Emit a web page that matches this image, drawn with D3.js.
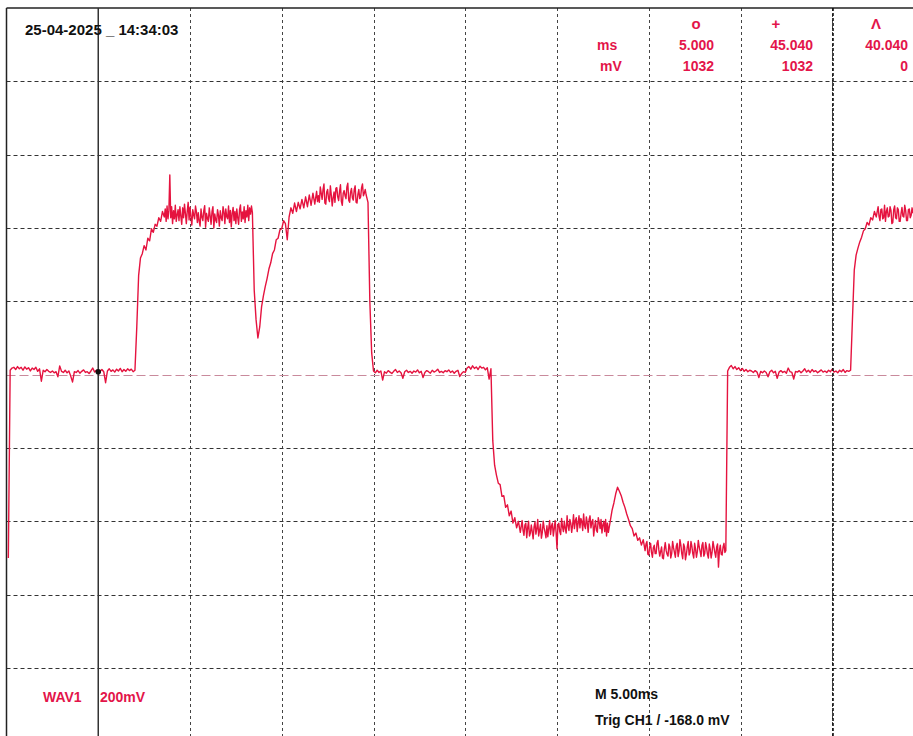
<!DOCTYPE html>
<html><head><meta charset="utf-8">
<script src="https://cdn.jsdelivr.net/npm/d3@7"></script>
<style>html,body{margin:0;padding:0;background:#fff;}svg{display:block}</style>
</head><body><svg id="c" width="913" height="736"></svg>
<script>
// ---- data ----
const timeDivMs = [0,5,10,15,20,25,30,35,40,45,50];
const voltDivMv = [-1000,-800,-600,-400,-200,0,200,400,600,800,1000];
const cursorMs = [5.000, 45.040];
const cursorDotMv = 8;
const headerSymbols = ["o", "+", "\u039B"];
const cursorTimeLabels = ["5.000", "45.040", "40.040"];
const cursorVoltLabels = ["1032", "1032", "0"];
const dateLabel = "25-04-2025 _ 14:34:03";
const channelLabel = "WAV1";
const scaleLabel = "200mV";
const timebaseLabel = "M 5.00ms";
const triggerLabel = "Trig CH1 / -168.0 mV";

// trace in segments (start time, sample step, values in mV)
const segmentStartMs = [0.1, 8.6, 13.5, 16.9, 19.7, 28.1, 32.9, 34.8, 39.3, 47.5];
const segmentStepMs  = [0.1, 0.05, 0.1, 0.05, 0.1, 0.05, 0.1, 0.05, 0.1, 0.05];
const segA = [-500,12,18,20,14,22,16,20,12,21,15,19,10,18,14,20,9,16,-18,12,8,14,9,6,10,5,8,-6,24,9,6,12,5,10,-4,-20,8,6,11,4,9,13,6,8,3,10,18,7,12,5,9,14,8,-22,10,16,9,13,7,15,10,17,8,14,9,16,11,15,8,12,
  130,270,318,330,352,340,372,365,398,388,410,405,428,418,445];
const segB = [430,452,418,460,425,448,545,428,458,412,447,425,462,418,436,450,420,458,432,410,
  455,428,465,440,412,446,470,422,457,430,408,450,436,425,460,444,415,442,418,405,
  452,430,420,447,461,402,440,426,418,455,432,410,445,458,400,438,422,415,450,435,
  405,447,428,420,458,444,412,452,431,425,460,415,448,403,440,456,420,445,412,452,
  428,410,450,463,418,444,425,458,415,447,430,462,420,455,438,460,442];
const segC = [230,150,100,130,185,215,240,262,288,305,330,340,368,372,395,398,420,412,368,430,455,440,468,445,470,452,478,455,485,458,490,462,495,465];
const segD = [500,472,488,470,512,495,478,505,520,468,465,498,505,480,472,515,490,460,482,498,
  470,508,510,485,475,500,518,472,462,495,502,488,480,512,522,476,470,498,508,482,
  476,505,515,470,468,492,505,480,485,510,520,488,495,505,490];
const segE = [470,200,60,10,
  5,12,6,10,-15,8,4,11,7,3,9,14,6,10,5,-10,8,12,6,9,4,10,7,13,5,9,-8,6,11,8,4,12,7,10,15,6,9,5,11,8,13,6,10,4,9,12,-5,3,8,6,18,22,15,24,17,21,14,23,18,20,13,19,-12,16,
  -180,-247,-274,-296,-300,-332,-330,-362,-355,-385,-372,-405,-390,-418,-400,-430];
const segF = [-398,-425,-438,-410,-405,-445,-418,-400,-440,-432,-410,-428,-448,-415,-402,-435,-420,-395,-440,-425,
  -408,-446,-430,-400,-418,-430,-445,-412,-442,-420,-398,-436,-412,-405,-440,-420,-398,-430,-475,-410,
  -405,-428,-436,-392,-415,-428,-400,-420,-432,-385,-412,-425,-395,-405,-430,-410,-382,-420,-398,-390,
  -428,-405,-385,-418,-392,-400,-425,-380,-412,-420,-388,-405,-430,-395,-385,-418,-402,-395,-440,-415,
  -398,-425,-430,-390,-402,-420,-395,-432,-410,-400,-428,-395,-440,-405,-430];
const segG = [-400,-370,-350,-325,-307,-318,-330,-348,-362,-380,-395,-412,-420,-440,-432,-452,-445,-465,-450];
const segH = [-480,-462,-455,-490,-492,-470,-460,-485,-498,-472,-465,-488,-488,-460,-452,-478,-495,-482,-470,-500,
  -502,-475,-458,-480,-490,-495,-462,-470,-500,-488,-455,-472,-485,-498,-468,-460,-496,-482,-450,-465,
  -488,-502,-462,-470,-505,-490,-470,-455,-492,-485,-455,-468,-488,-500,-460,-475,-498,-482,-452,-470,
  -482,-496,-465,-458,-495,-488,-458,-472,-490,-500,-462,-475,-500,-485,-455,-470,-485,-498,-470,-462,
  -525,-480,-465,-490,-492,-470,-460,-485,-480];
const segI = [10,20,25,16,22,14,19,11,17,9,14,8,12,10,6,11,7,-8,9,5,10,6,-6,8,12,5,9,-10,7,11,6,9,4,18,8,6,-12,9,7,11,5,10,16,7,12,6,14,8,11,5,9,13,7,10,6,12,8,15,7,10,5,12,8,14,6,11,9,12,
  150,285,326,345,362,375,392,398,415,408,428,422,445,430];
const segJ = [458,432,420,450,452,425,428,462,418,445,455,430,432,458,448,412,415,450,460,428,
  425,455,450,418,418,440,456,432,430,462,448,420,420,450,452,428,435,455,440];
const segmentsMv = [segA, segB, segC, segD, segE, segF, segG, segH, segI, segJ];

// ---- drawing ----
const svg = d3.select("#c");
const x = d3.scaleLinear().domain([0, 50]).range([6.5, 6.5 + 917.5]);
const y = d3.scaleLinear().domain([-1000, 1000]).range([741.3, 8]);
const red = "#e3154a";
const traceRed = "#e5133f";
const font = "'Liberation Sans', Arial, sans-serif";

const grid = svg.append("g");
grid.selectAll("line.v").data(timeDivMs.filter(d => d > 0 && d < 50)).join("line")
  .attr("x1", d => Math.round(x(d)) + 0.5).attr("x2", d => Math.round(x(d)) + 0.5)
  .attr("y1", y(1000)).attr("y2", 736)
  .attr("stroke", "#444").attr("stroke-width", 1).attr("stroke-dasharray", "3,3");
grid.selectAll("line.h").data(voltDivMv.filter(d => d > -1000 && d < 1000 && d !== 0)).join("line")
  .attr("y1", d => Math.round(y(d)) + 0.5).attr("y2", d => Math.round(y(d)) + 0.5)
  .attr("x1", x(0)).attr("x2", 913)
  .attr("stroke", "#333").attr("stroke-width", 1).attr("stroke-dasharray", "4,3");
// reference (zero) line
svg.append("line").attr("x1", x(0)).attr("x2", 913)
  .attr("y1", Math.round(y(0)) + 0.5).attr("y2", Math.round(y(0)) + 0.5)
  .attr("stroke", "#c98a9c").attr("stroke-width", 1.2).attr("stroke-dasharray", "9,4");
// frame
svg.append("line").attr("x1", x(0)).attr("x2", 913).attr("y1", y(1000)).attr("y2", y(1000))
  .attr("stroke", "#222").attr("stroke-width", 1.5);
svg.append("line").attr("x1", x(0)).attr("x2", x(0)).attr("y1", y(1000)).attr("y2", 736)
  .attr("stroke", "#222").attr("stroke-width", 1.5);

// trace
const points = [];
segmentsMv.forEach((seg, si) => seg.forEach((v, i) =>
  points.push([segmentStartMs[si] + i * segmentStepMs[si], v])));
svg.append("path").datum(points)
  .attr("d", d3.line().x(d => x(d[0])).y(d => y(d[1])))
  .attr("fill", "none").attr("stroke", traceRed).attr("stroke-width", 1.4).attr("stroke-linejoin", "round");

// cursors
svg.append("line").attr("x1", x(cursorMs[0])).attr("x2", x(cursorMs[0]))
  .attr("y1", y(1000)).attr("y2", 736).attr("stroke", "#333").attr("stroke-width", 1.5);
svg.append("line").attr("x1", x(cursorMs[1])).attr("x2", x(cursorMs[1]))
  .attr("y1", y(1000)).attr("y2", 736).attr("stroke", "#111").attr("stroke-width", 1.6).attr("stroke-dasharray", "3,2");
svg.append("circle").attr("cx", x(cursorMs[0])).attr("cy", y(cursorDotMv)).attr("r", 2.8).attr("fill", "#111");

// texts
function txt(s, tx, ty, color, anchor, size) {
  svg.append("text").attr("x", tx).attr("y", ty).text(s)
    .attr("font-family", font).attr("font-weight", "bold").attr("font-size", size || 14)
    .attr("fill", color).attr("text-anchor", anchor || "start");
}
txt(dateLabel, 25, 35, "#111", "start", 15);
txt("ms", 597, 50, red);
txt("mV", 600, 71, red);
const symX = [696, 776, 876];
headerSymbols.forEach((s, i) => txt(s, symX[i], 29, red, "middle", 15));
const valRight = [714, 813, 908];
cursorTimeLabels.forEach((s, i) => txt(s, valRight[i], 50, red, "end"));
cursorVoltLabels.forEach((s, i) => txt(s, valRight[i], 71, red, "end"));
txt(channelLabel, 43, 702, red);
txt(scaleLabel, 100, 702, red);
txt(timebaseLabel, 595, 699, "#111");
txt(triggerLabel, 595, 725, "#111");
</script></body></html>
